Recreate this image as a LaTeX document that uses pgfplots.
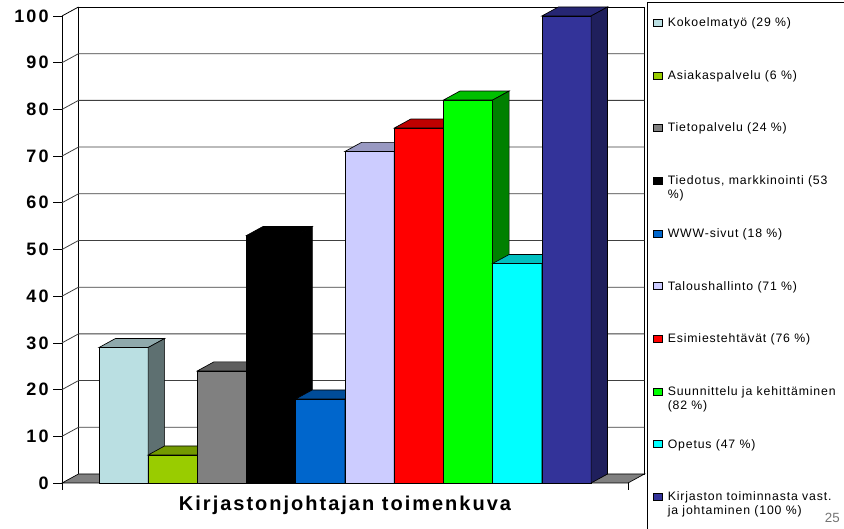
\documentclass[border=0pt]{standalone}
\usepackage{pgfplots}
\pgfplotsset{compat=1.18}
\usepackage{fontspec}
\setmainfont{Liberation Sans}
\newfontfamily\tickfont[LetterSpace=12]{Liberation Sans}
\newfontfamily\titlefont[LetterSpace=10]{Liberation Sans}
\newfontfamily\legfont[LetterSpace=7]{Liberation Sans}

\definecolor{fA}{HTML}{BADFE2}\definecolor{tA}{HTML}{8FA9AC}\definecolor{sA}{HTML}{5E7071}
\definecolor{fB}{HTML}{99CC00}\definecolor{tB}{HTML}{739900}\definecolor{sB}{HTML}{5C7A00}
\definecolor{fC}{HTML}{808080}\definecolor{tC}{HTML}{5F5F5F}\definecolor{sC}{HTML}{454545}
\definecolor{fD}{HTML}{000000}\definecolor{tD}{HTML}{000000}\definecolor{sD}{HTML}{000000}
\definecolor{fE}{HTML}{0066CC}\definecolor{tE}{HTML}{004C99}\definecolor{sE}{HTML}{003D80}
\definecolor{fF}{HTML}{CCCCFF}\definecolor{tF}{HTML}{9999C2}\definecolor{sF}{HTML}{7A7AA0}
\definecolor{fG}{HTML}{FF0000}\definecolor{tG}{HTML}{BF0000}\definecolor{sG}{HTML}{800000}
\definecolor{fH}{HTML}{00FF00}\definecolor{tH}{HTML}{00BF00}\definecolor{sH}{HTML}{008000}
\definecolor{fI}{HTML}{00FFFF}\definecolor{tI}{HTML}{00BFBF}\definecolor{sI}{HTML}{008080}
\definecolor{fJ}{HTML}{333399}\definecolor{tJ}{HTML}{262673}\definecolor{sJ}{HTML}{1F1F5C}
\definecolor{floorc}{HTML}{808080}

\def\dx{0.335}
\def\dy{1.93}
% #1 left edge, #2 value, #3 colour letter
\newcommand{\drawbar}[3]{%
  \pgfmathsetmacro\xa{#1}%
  \pgfmathsetmacro\xb{#1+1}%
  \pgfmathsetmacro\xc{#1+\dx}%
  \pgfmathsetmacro\xd{#1+1+\dx}%
  \pgfmathsetmacro\yt{#2+\dy}%
  \addplot[fill=f#3,draw=black,line width=0.5pt] coordinates {(\xa,0) (\xb,0) (\xb,#2) (\xa,#2)} -- cycle;
  \addplot[fill=t#3,draw=black,line width=0.5pt] coordinates {(\xa,#2) (\xb,#2) (\xd,\yt) (\xc,\yt)} -- cycle;
  \addplot[fill=s#3,draw=black,line width=0.5pt] coordinates {(\xb,0) (\xd,\dy) (\xd,\yt) (\xb,#2)} -- cycle;
}
\newcommand{\gridlevel}[1]{%
  \pgfmathsetmacro\yg{#1+\dy}%
  \addplot[black!75,line width=0.6pt] coordinates {(0,#1) (\dx,\yg) (11.835,\yg)};
}

\begin{document}
\begin{tikzpicture}
\begin{axis}[
  at={(0,0)},anchor=south west,
  scale only axis,
  width=424.5pt,height=350.25pt,
  xmin=0,xmax=11.5,ymin=0,ymax=100,
  clip=false,
  axis x line=none,
  axis y line*=left,
  xtick=\empty,
  ytick={0,10,...,100},
  tick align=outside,
  major tick length=6.5pt,
  y axis line style={black,line width=0.5pt},
  tick style={black,line width=0.5pt},
  /pgf/number format/assume math mode=true,
  yticklabel style={font=\tickfont\bfseries\fontsize{13.5}{15}\selectfont},
]
% back wall
\addplot[fill=white,draw=black,line width=0.6pt] coordinates {(0.335,1.93) (11.835,1.93) (11.835,101.93) (0.335,101.93)} -- cycle;
\addplot[black,line width=0.6pt] coordinates {(0,100) (0.335,101.93)};
\gridlevel{10}\gridlevel{20}\gridlevel{30}\gridlevel{40}\gridlevel{50}
\gridlevel{60}\gridlevel{70}\gridlevel{80}\gridlevel{90}
% floor
\addplot[fill=floorc,draw=black,line width=0.5pt] coordinates {(0,0) (11.5,0) (11.835,1.93) (0.335,1.93)} -- cycle;
\addplot[black,line width=0.5pt] coordinates {(0,0) (0,-1.5)};
\addplot[black,line width=0.5pt] coordinates {(11.5,0) (11.5,-1.5)};
% bars
\drawbar{0.75}{29}{A}
\drawbar{1.75}{6}{B}
\drawbar{2.75}{24}{C}
\drawbar{3.75}{53}{D}
\drawbar{4.75}{18}{E}
\drawbar{5.75}{71}{F}
\drawbar{6.75}{76}{G}
\drawbar{7.75}{82}{H}
\drawbar{8.75}{47}{I}
\drawbar{9.75}{100}{J}
\end{axis}
\begin{scope}[shift={(-46.5pt,362.25pt)},x=0.75pt,y=-0.75pt]
  \node[font=\titlefont\bfseries\fontsize{15}{17}\selectfont] at (345,505) {Kirjastonjohtajan toimenkuva};
  \draw[black,line width=0.6pt] (647,540) -- (647,2) -- (850,2);
  \foreach \i/\c/\t in {0/fA/{Kokoelmatyö (29 \%)},1/fB/{Asiakaspalvelu (6 \%)},2/fC/{Tietopalvelu (24 \%)},3/fD/{Tiedotus, markkinointi (53\\\%)},4/fE/{WWW-sivut (18 \%)},5/fF/{Taloushallinto (71 \%)},6/fG/{Esimiestehtävät (76 \%)},7/fH/{Suunnittelu ja kehittäminen\\(82 \%)},8/fI/{Opetus (47 \%)},9/fJ/{Kirjaston toiminnasta vast.\\ja johtaminen (100 \%)}}{
    \pgfmathsetmacro\yy{22.7+52.7*\i}
    \draw[fill=\c,draw=black,line width=0.5pt] (653.5,\yy-3.5) rectangle (662,\yy+3.5);
    \node[anchor=north west,inner sep=0pt,align=left,font=\legfont\fontsize{9.2}{10.2}\selectfont] at (667.5,\yy-5.3) {\t};
  }
  \node[anchor=base east,inner sep=0pt,text=black!55,font=\fontsize{10}{11}\selectfont] at (840,523) {25};
  \pgfresetboundingbox
  \path[use as bounding box] (0,0) rectangle (844,529);
\end{scope}
\end{tikzpicture}
\end{document}
